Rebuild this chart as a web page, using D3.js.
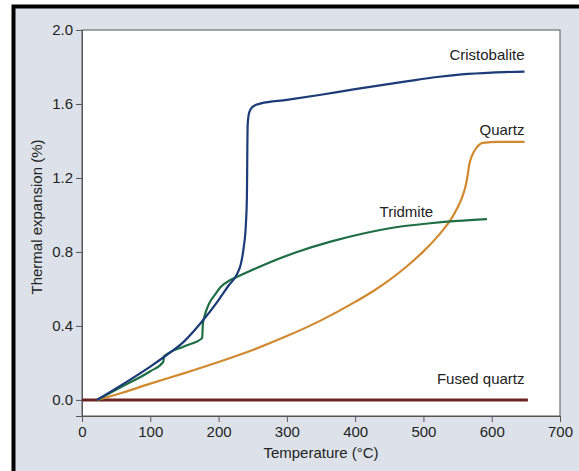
<!DOCTYPE html>
<html>
<head>
<meta charset="utf-8">
<script src="https://cdn.jsdelivr.net/npm/d3@7"></script>
<style>
  body { margin: 0; background: #fff; }
  text { font-family: "Liberation Sans", Arial, sans-serif; fill: #222; }
</style>
</head>
<body>
<div id="chart"></div>
<script>
// values: [temperature °C, expansion %]
const cristobalite = [[22,0],[60,0.085],[100,0.18],[120,0.232],[150,0.318],[176,0.425],[200,0.54],[215,0.62],[227,0.68],[233,0.74],[237,0.83],[240,0.95],[241.5,1.1],[242,1.3],[242.5,1.48],[244,1.54],[247,1.572],[252,1.59],[262,1.603],[300,1.622],[350,1.65],[400,1.68],[475,1.722],[520,1.746],[556,1.76],[600,1.77],[648,1.775]];
const tridmite = [[22,0],[60,0.075],[100,0.155],[119,0.205],[120,0.234],[150,0.29],[176,0.335],[177,0.41],[180,0.46],[186,0.52],[195,0.57],[203,0.61],[218,0.65],[228,0.667],[266,0.73],[315,0.8],[364,0.856],[412,0.9],[462,0.935],[510,0.955],[550,0.968],[593,0.978]];
const quartz = [[22,0],[60,0.04],[100,0.088],[150,0.145],[200,0.205],[250,0.27],[300,0.345],[350,0.43],[400,0.53],[425,0.585],[450,0.648],[475,0.72],[500,0.803],[517,0.868],[530,0.925],[540,0.975],[550,1.04],[556,1.09],[562,1.16],[565,1.22],[567,1.27],[571,1.32],[578,1.365],[587,1.39],[610,1.395],[648,1.395]];
const fusedQuartz = [[0,0],[653,0]];

const xTicks = [0, 100, 200, 300, 400, 500, 600, 700];
const yTicks = [0.0, 0.4, 0.8, 1.2, 1.6, 2.0];

const width = 579, height = 471;
const svg = d3.select("#chart").append("svg")
  .attr("width", width)
  .attr("height", height);

// panel with black frame on left and top
svg.append("rect")
  .attr("x", 14).attr("y", 7)
  .attr("width", width - 14).attr("height", height - 7)
  .attr("fill", "#dde2ea");
svg.append("path")
  .attr("d", `M13.5,${height} V6.5 H${width}`)
  .attr("fill", "none")
  .attr("stroke", "#000")
  .attr("stroke-width", 4);

const x = d3.scaleLinear().domain([0, 700]).range([82, 560]);
const y = d3.scaleLinear().domain([-0.087, 2.0]).range([416, 30]);

// plot area
svg.append("rect")
  .attr("x", x(0)).attr("y", y(2.0))
  .attr("width", x(700) - x(0)).attr("height", y(-0.087) - y(2.0))
  .attr("fill", "#fff")
  .attr("stroke", "#555")
  .attr("stroke-width", 1);

const xAxis = svg.append("g")
  .attr("transform", `translate(0,${y(-0.087)})`)
  .call(d3.axisBottom(x).tickValues(xTicks).tickSize(6).tickPadding(4).tickFormat(d3.format("d")));
const yAxis = svg.append("g")
  .attr("transform", `translate(${x(0)},0)`)
  .call(d3.axisLeft(y).tickValues(yTicks).tickSize(6).tickPadding(3).tickFormat(d3.format(".1f")));

[xAxis, yAxis].forEach(a => {
  a.select(".domain").attr("stroke", "#555");
  a.selectAll(".tick line").attr("stroke", "#555");
  a.selectAll(".tick text")
    .attr("font-size", 15)
    .attr("fill", "#333")
    .style("font-family", "Liberation Sans, Arial, sans-serif");
});

const line = d3.line()
  .x(d => x(d[0]))
  .y(d => y(d[1]))
  .curve(d3.curveMonotoneX);

const series = [
  { data: fusedQuartz, color: "#6b2422", w: 3 },
  { data: quartz, color: "#d1892f", w: 2.2 },
  { data: tridmite, color: "#1f6e45", w: 2.2 },
  { data: cristobalite, color: "#1c3b78", w: 2.2 }
];

svg.append("g")
  .selectAll("path")
  .data(series)
  .join("path")
  .attr("d", d => line(d.data))
  .attr("fill", "none")
  .attr("stroke", d => d.color)
  .attr("stroke-width", d => d.w)
  .attr("stroke-linejoin", "round");

// series labels
const labels = [
  { text: "Cristobalite", x: 648, y: 1.84, anchor: "end" },
  { text: "Quartz", x: 648, y: 1.43, anchor: "end" },
  { text: "Tridmite", x: 475, y: 0.99, anchor: "middle" },
  { text: "Fused quartz", x: 648, y: 0.085, anchor: "end" }
];
svg.append("g")
  .selectAll("text")
  .data(labels)
  .join("text")
  .attr("x", d => x(d.x))
  .attr("y", d => y(d.y))
  .attr("text-anchor", d => d.anchor)
  .attr("font-size", 15)
  .text(d => d.text);

svg.append("text")
  .attr("x", (x(0) + x(700)) / 2)
  .attr("y", 458)
  .attr("text-anchor", "middle")
  .attr("font-size", 15)
  .text("Temperature (°C)");

svg.append("text")
  .attr("transform", `translate(42,${(y(2.0) + y(-0.087)) / 2 - 6}) rotate(-90)`)
  .attr("text-anchor", "middle")
  .attr("font-size", 15)
  .text("Thermal expansion (%)");
</script>
</body>
</html>
